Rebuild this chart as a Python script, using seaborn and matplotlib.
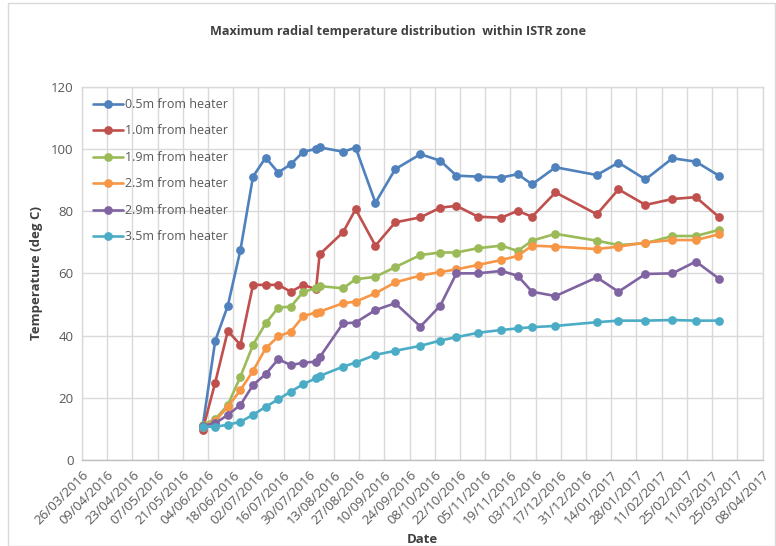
import matplotlib
matplotlib.use("Agg")
import matplotlib.pyplot as plt
import matplotlib.dates as mdates
from matplotlib.patches import Rectangle
import numpy as np
import pandas as pd
import seaborn as sns

dates = ["2016-06-01", "2016-06-08", "2016-06-15", "2016-06-22", "2016-06-29", "2016-07-06",
         "2016-07-13", "2016-07-20", "2016-07-27", "2016-08-03", "2016-08-05", "2016-08-18",
         "2016-08-25", "2016-09-05", "2016-09-16", "2016-09-30", "2016-10-11", "2016-10-20",
         "2016-11-01", "2016-11-14", "2016-11-23", "2016-12-01", "2016-12-14", "2017-01-06",
         "2017-01-18", "2017-02-02", "2017-02-17", "2017-03-02", "2017-03-15"]

t_05 = [10.7, 38.3, 49.6, 67.5, 91.1, 97.2, 92.4, 95.1, 99.1, 100.0, 100.5, 99.1, 100.4, 82.7,
        93.5, 98.3, 96.2, 91.4, 91.1, 90.8, 91.9, 88.6, 94.1, 91.6, 95.6, 90.2, 97.0, 95.9, 91.3]
t_10 = [9.6, 24.9, 41.5, 37.0, 56.3, 56.3, 56.3, 54.1, 56.3, 54.9, 66.1, 73.2, 80.6, 68.9,
        76.4, 78.0, 81.1, 81.7, 78.2, 77.9, 80.1, 78.2, 86.0, 79.0, 87.0, 82.0, 83.9, 84.5, 78.0]
t_19 = [11.3, 13.1, 17.7, 26.8, 37.0, 43.9, 49.0, 49.3, 54.1, 55.2, 55.9, 55.2, 58.1, 58.9,
        62.0, 65.9, 66.7, 66.7, 68.1, 68.9, 67.2, 70.5, 72.7, 70.5, 69.1, 69.7, 72.0, 72.0, 74.0]
t_23 = [10.7, 12.6, 17.1, 22.5, 28.6, 35.9, 39.7, 41.3, 46.3, 47.4, 47.7, 50.4, 50.9, 53.6,
        57.1, 59.3, 60.4, 61.3, 62.7, 64.3, 65.6, 68.9, 68.6, 67.8, 68.6, 69.9, 70.7, 70.7, 72.6]
t_29 = [11.0, 11.8, 14.5, 17.7, 24.1, 27.6, 32.4, 30.5, 31.3, 31.6, 33.0, 43.9, 44.2, 48.2,
        50.4, 42.9, 49.6, 60.0, 60.0, 60.8, 59.2, 54.1, 52.7, 58.7, 54.1, 59.8, 60.0, 63.8, 58.2]
t_35 = [10.7, 10.7, 11.3, 12.3, 14.5, 17.1, 19.5, 22.0, 24.4, 26.3, 27.0, 30.0, 31.3, 33.8,
        35.1, 36.7, 38.4, 39.5, 40.9, 41.8, 42.3, 42.7, 43.1, 44.3, 44.8, 44.8, 45.0, 44.8, 44.8]

series_names = ["0.5m from heater", "1.0m from heater", "1.9m from heater",
                "2.3m from heater", "2.9m from heater", "3.5m from heater"]
series_values = [t_05, t_10, t_19, t_23, t_29, t_35]
colors = ["#4F81BD", "#C0504D", "#9BBB59", "#F79646", "#8064A2", "#4BACC6"]

tick_start = "2016-03-26"
tick_end = "2017-04-08"
y_ticks = [0, 20, 40, 60, 80, 100, 120]

rows = []
for name, vals in zip(series_names, series_values):
    for d, v in zip(dates, vals):
        rows.append({"Date": pd.Timestamp(d), "Temp": v, "Series": name})
df = pd.DataFrame(rows)

sns.set_style("white")
plt.rcParams["font.family"] = ["Open Sans", "DejaVu Sans"]

fig = plt.figure(figsize=(7.76, 5.46), dpi=100)
ax = fig.add_axes([82 / 776, 1 - 460 / 546, (762.5 - 82) / 776, (460 - 86.7) / 546])

sns.lineplot(data=df, x="Date", y="Temp", hue="Series", hue_order=series_names,
             palette=colors, marker="o", markersize=6.3, markeredgewidth=0,
             linewidth=1.9, sort=True, ax=ax)

ticks = pd.date_range(tick_start, tick_end, freq="14D")
ax.set_xlim(mdates.date2num(ticks[0]), mdates.date2num(ticks[-1]))
ax.set_xticks(mdates.date2num(ticks))
ax.set_xticklabels([t.strftime("%d/%m/%Y") for t in ticks], rotation=45,
                   ha="right", rotation_mode="anchor", fontsize=9.5, color="#595959")
ax.set_ylim(0, 120)
ax.set_yticks(y_ticks)
ax.set_yticklabels([str(v) for v in y_ticks], fontsize=9.5, color="#595959")
ax.tick_params(axis="x", length=0, pad=6)
ax.tick_params(axis="y", length=0, pad=6)

ax.grid(True, color="#d9d9d9", linewidth=1)
ax.set_axisbelow(True)
for side in ["left", "right", "top"]:
    ax.spines[side].set_visible(True)
    ax.spines[side].set_color("#d9d9d9")
    ax.spines[side].set_linewidth(1)
ax.spines["bottom"].set_color("#bfbfbf")
ax.spines["bottom"].set_linewidth(1)

ax.set_xlabel("Date", fontsize=9.5, fontweight="bold", color="#404040", labelpad=4)
ax.set_ylabel("Temperature (deg C)", fontsize=9.5, fontweight="bold", color="#404040", labelpad=6)

leg = ax.legend(loc="upper left", bbox_to_anchor=(0.005, 0.99), frameon=False,
                fontsize=9, handlelength=2.4, labelspacing=1.08, handletextpad=0.2,
                borderaxespad=0.2)
for txt in leg.get_texts():
    txt.set_color("#595959")

fig.text(398 / 776, 1 - 31 / 546, "Maximum radial temperature distribution  within ISTR zone",
         ha="center", va="center", fontsize=9.1, fontweight="bold", color="#404040")

fig.patches.append(Rectangle((8 / 776, 0), 1 - 8 / 776 - 1 / 776, 1 - 3 / 546,
                             transform=fig.transFigure, fill=False,
                             edgecolor="#d9d9d9", linewidth=1))

fig.savefig("out.png", dpi=100)
